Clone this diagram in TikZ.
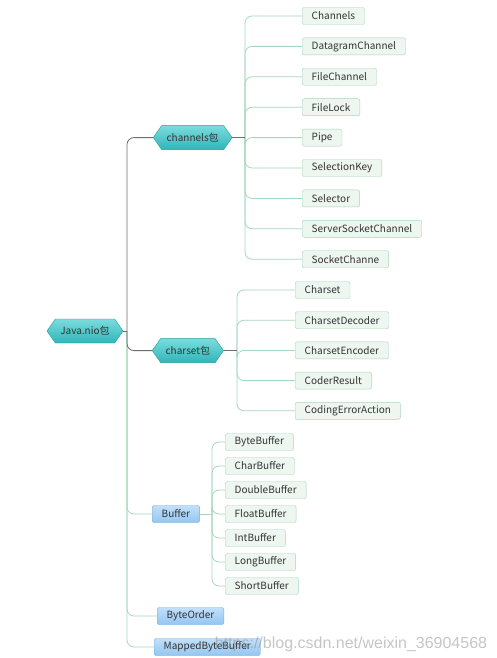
\documentclass[tikz,border=0pt]{standalone}
\usepackage{fontspec}
\setmainfont{Noto Sans CJK SC}
\newfontfamily\markfont{Liberation Sans}
\usetikzlibrary{positioning,shapes.symbols}

\definecolor{textgray}{HTML}{333333}
\definecolor{teallight}{HTML}{7ADCDD}
\definecolor{tealdark}{HTML}{2FB6B9}
\definecolor{tealline}{HTML}{2A9A9D}
\definecolor{bluelight}{HTML}{C2E0FA}
\definecolor{bluedark}{HTML}{93C6F0}
\definecolor{blueline}{HTML}{78AEDC}
\definecolor{leaffill}{HTML}{EEF6F0}
\definecolor{leafline}{HTML}{A8D5BC}
\definecolor{twiggreen}{HTML}{A6D7BF}
\definecolor{stemgray}{HTML}{6E6E6E}

\tikzset{
  pkg/.style={signal, signal to=west and east, signal pointer angle=110,
    draw=tealline, top color=teallight, bottom color=tealdark,
    minimum height=24pt, inner xsep=5pt, inner ysep=0pt,
    font=\fontsize{10}{12}\selectfont, text=textgray},
  leaf/.style={rectangle, rounded corners=2pt, draw=leafline, fill=leaffill,
    minimum height=17pt, inner xsep=9.5pt, inner ysep=0pt,
    font=\fontsize{10}{12}\selectfont, text=textgray},
  cls/.style={leaf, draw=blueline, top color=bluelight, bottom color=bluedark},
  twig/.style={draw=twiggreen, line width=0.8pt, rounded corners=7pt},
  stem/.style={draw=stemgray, line width=0.8pt, rounded corners=7pt},
}

\begin{document}
\begin{tikzpicture}[x=1pt, y=-1pt]
  \useasboundingbox[fill=white] (0,0) rectangle (496,658);

  % root and first level
  \node[pkg] (nio) at (85,331) {Java.nio包};
  \node[pkg, anchor=west] (chan) at (153,137.6) {channels包};
  \node[pkg, anchor=west] (cset) at (152,350.6) {charset包};
  \node[cls, anchor=west] (buf) at (152,514) {Buffer};
  \node[cls, anchor=west] (border) at (157,616) {ByteOrder};
  \node[cls, anchor=west] (mbb) at (154,647) {MappedByteBuffer};

  % channels
  \node[leaf, anchor=west] (c1) at (302,16) {Channels};
  \node[leaf, below=30.4pt of c1.west, anchor=west] (c2) {DatagramChannel};
  \node[leaf, below=30.4pt of c2.west, anchor=west] (c3) {FileChannel};
  \node[leaf, below=30.4pt of c3.west, anchor=west] (c4) {FileLock};
  \node[leaf, below=30.4pt of c4.west, anchor=west] (c5) {Pipe};
  \node[leaf, below=30.4pt of c5.west, anchor=west] (c6) {SelectionKey};
  \node[leaf, below=30.4pt of c6.west, anchor=west] (c7) {Selector};
  \node[leaf, below=30.4pt of c7.west, anchor=west] (c8) {ServerSocketChannel};
  \node[leaf, below=30.4pt of c8.west, anchor=west] (c9) {SocketChanne};

  % charset
  \node[leaf, anchor=west] (s1) at (295,290) {Charset};
  \node[leaf, below=30.2pt of s1.west, anchor=west] (s2) {CharsetDecoder};
  \node[leaf, below=30.2pt of s2.west, anchor=west] (s3) {CharsetEncoder};
  \node[leaf, below=30.2pt of s3.west, anchor=west] (s4) {CoderResult};
  \node[leaf, below=30.2pt of s4.west, anchor=west] (s5) {CodingErrorAction};

  % buffers
  \node[leaf, anchor=west] (b1) at (225,442) {ByteBuffer};
  \node[leaf, below=24pt of b1.west, anchor=west] (b2) {CharBuffer};
  \node[leaf, below=24pt of b2.west, anchor=west] (b3) {DoubleBuffer};
  \node[leaf, below=24pt of b3.west, anchor=west] (b4) {FloatBuffer};
  \node[leaf, below=24pt of b4.west, anchor=west] (b5) {IntBuffer};
  \node[leaf, below=24pt of b5.west, anchor=west] (b6) {LongBuffer};
  \node[leaf, below=24pt of b6.west, anchor=west] (b7) {ShortBuffer};

  \coordinate (trunk) at (127,331);
  \coordinate (chanfork) at (245,137.6);
  \coordinate (csetfork) at (237,350.6);
  \coordinate (buffork) at (212,514);

  % connectors
  \draw[twig] (trunk) |- (buf.west);
  \draw[twig] (trunk) |- (border.west);
  \draw[twig] (trunk) |- (mbb.west);
  \draw[stem] (nio.east) -- (trunk);
  \draw[stem] (trunk) |- (chan.west);
  \draw[stem] (trunk) |- (cset.west);

  \foreach \c in {c1,c2,c3,c4,c5,c6,c7,c8,c9}
    \draw[twig] (chanfork) |- (\c.west);
  \draw[stem] (chan.east) -- (chanfork);
  \foreach \s in {s1,s2,s3,s4,s5}
    \draw[twig] (csetfork) |- (\s.west);
  \draw[stem] (cset.east) -- (csetfork);
  \foreach \b in {b1,b2,b3,b4,b5,b6,b7}
    \draw[twig] (buffork) |- (\b.west);
  \draw[twig] (buf.east) -- (buffork);

  % watermark
  \node[font=\markfont\fontsize{16}{18}\selectfont, text=gray, opacity=0.45] (mark) at (351,644) {https://blog.csdn.net/weixin\_36904568};
\end{tikzpicture}
\end{document}
